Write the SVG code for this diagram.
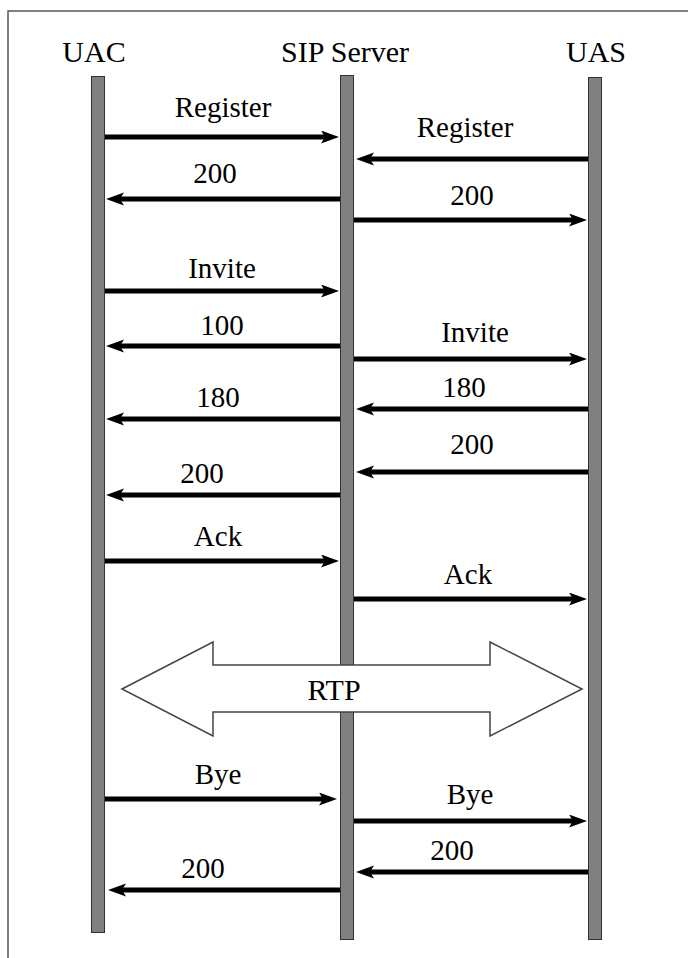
<svg xmlns="http://www.w3.org/2000/svg" width="688" height="958" viewBox="0 0 688 958">
<defs>
<marker id="ah" markerUnits="userSpaceOnUse" markerWidth="20" markerHeight="14" refX="4" refY="6.5" orient="auto">
<path d="M0,0 L18,6.5 L0,13 L4,6.5 z" fill="#000"/>
</marker>
</defs>
<rect x="0" y="0" width="688" height="958" fill="#fff"/>
<rect id="frame" x="8" y="11" width="700" height="970" fill="none" stroke="#555" stroke-width="1.5"/>

<g id="uac">
<text font-family="Liberation Serif" font-size="30" text-anchor="middle" x="94" y="62">UAC</text>
<rect fill="#808080" stroke="#333" stroke-width="1" x="91.5" y="76.5" width="13" height="856"/>
</g>
<g id="sip-server">
<text font-family="Liberation Serif" font-size="30" text-anchor="middle" x="345" y="62">SIP Server</text>
<rect fill="#808080" stroke="#333" stroke-width="1" x="340.5" y="75.5" width="13" height="864"/>
</g>
<g id="uas">
<text font-family="Liberation Serif" font-size="30" text-anchor="middle" x="596" y="62">UAS</text>
<rect fill="#808080" stroke="#333" stroke-width="1" x="588.5" y="77.5" width="13" height="862"/>
</g>

<g id="connectors">
<g stroke="#000" stroke-width="5" fill="none" marker-end="url(#ah)">
<line x1="105" y1="137" x2="325" y2="137"/>
<line x1="588" y1="159" x2="370" y2="159"/>
<line x1="340" y1="199" x2="120" y2="199"/>
<line x1="354" y1="220" x2="573" y2="220"/>
<line x1="105" y1="291" x2="325" y2="291"/>
<line x1="340" y1="346" x2="120" y2="346"/>
<line x1="354" y1="359" x2="573" y2="359"/>
<line x1="588" y1="409" x2="370" y2="409"/>
<line x1="340" y1="419" x2="120" y2="419"/>
<line x1="588" y1="472" x2="370" y2="472"/>
<line x1="340" y1="495" x2="120" y2="495"/>
<line x1="105" y1="561" x2="325" y2="561"/>
<line x1="354" y1="599" x2="573" y2="599"/>
<line x1="105" y1="799" x2="323" y2="799"/>
<line x1="354" y1="821" x2="573" y2="821"/>
<line x1="588" y1="872" x2="370" y2="872"/>
<line x1="340" y1="890" x2="122" y2="890"/>
</g>
<text font-family="Liberation Serif" font-size="29" text-anchor="middle" x="223" y="117">Register</text>
<text font-family="Liberation Serif" font-size="29" text-anchor="middle" x="465" y="137">Register</text>
<text font-family="Liberation Serif" font-size="29" text-anchor="middle" x="215" y="183">200</text>
<text font-family="Liberation Serif" font-size="29" text-anchor="middle" x="472" y="205">200</text>
<text font-family="Liberation Serif" font-size="29" text-anchor="middle" x="222" y="278">Invite</text>
<text font-family="Liberation Serif" font-size="29" text-anchor="middle" x="222" y="335">100</text>
<text font-family="Liberation Serif" font-size="29" text-anchor="middle" x="475" y="342">Invite</text>
<text font-family="Liberation Serif" font-size="29" text-anchor="middle" x="464" y="397">180</text>
<text font-family="Liberation Serif" font-size="29" text-anchor="middle" x="218" y="407">180</text>
<text font-family="Liberation Serif" font-size="29" text-anchor="middle" x="472" y="454">200</text>
<text font-family="Liberation Serif" font-size="29" text-anchor="middle" x="202" y="483">200</text>
<text font-family="Liberation Serif" font-size="29" text-anchor="middle" x="218" y="546">Ack</text>
<text font-family="Liberation Serif" font-size="29" text-anchor="middle" x="468" y="584">Ack</text>
<text font-family="Liberation Serif" font-size="29" text-anchor="middle" x="218" y="784">Bye</text>
<text font-family="Liberation Serif" font-size="29" text-anchor="middle" x="470" y="804">Bye</text>
<text font-family="Liberation Serif" font-size="29" text-anchor="middle" x="452" y="860">200</text>
<text font-family="Liberation Serif" font-size="29" text-anchor="middle" x="203" y="878">200</text>
</g>

<g id="rtp">
<polygon points="122,689 213,642 213,665 490,665 490,642 582,689 490,736 490,712 213,712 213,736" fill="#fff" stroke="#444" stroke-width="1.5"/>
<text font-family="Liberation Serif" font-size="30" text-anchor="middle" x="334" y="700">RTP</text>
</g>
</svg>
